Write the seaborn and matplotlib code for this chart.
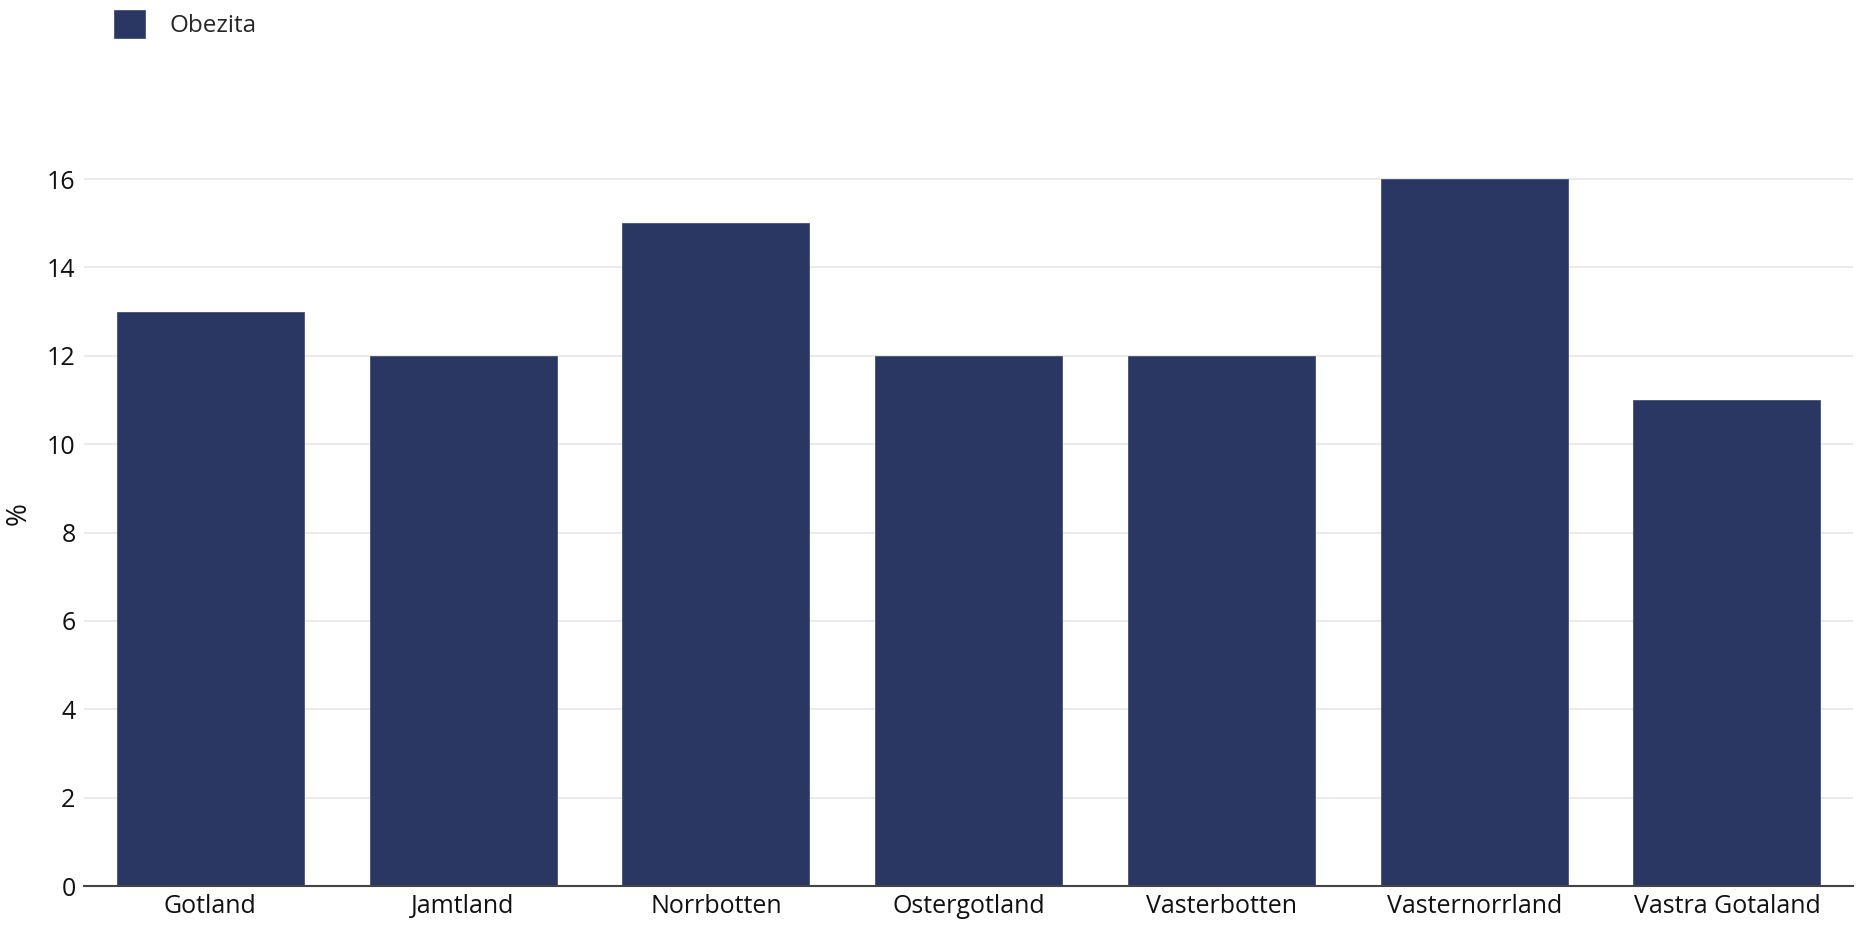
import numpy as np
import pandas as pd
import matplotlib
matplotlib.use('Agg')
import matplotlib.pyplot as plt
import seaborn as sns

regions = ['Gotland', 'Jamtland', 'Norrbotten', 'Ostergotland',
           'Vasterbotten', 'Vasternorrland', 'Vastra Gotaland']
obezita = [13, 12, 15, 12, 12, 16, 11]
series_name = 'Obezita'
y_ticks = [0, 2, 4, 6, 8, 10, 12, 14, 16]

BAR_COLOR = '#2a3763'
GRID_COLOR = '#ebebeb'

sns.set_theme(style='white')
plt.rcParams['font.family'] = ['Open Sans', 'DejaVu Sans']

df = pd.DataFrame({'region': regions, 'value': obezita})

fig = plt.figure(figsize=(18.57, 9.30), dpi=100)
ax = fig.add_axes([0.0452, 0.0473, 0.9528, 0.80])

sns.barplot(data=df, x='region', y='value', color=BAR_COLOR, width=0.74,
            saturation=1, label=series_name, ax=ax, zorder=3,
            edgecolor='#46507a', linewidth=0.6)

ax.set_xlim(-0.5, len(regions) - 0.5)
ax.set_ylim(0, 16.84)
ax.set_yticks(y_ticks)
ax.set_yticklabels([str(t) for t in y_ticks])
ax.yaxis.grid(True, color=GRID_COLOR, linewidth=1.5, zorder=0)
ax.xaxis.grid(False)
ax.set_axisbelow(True)
for side in ['top', 'right', 'left']:
    ax.spines[side].set_visible(False)
ax.spines['bottom'].set_color('#444444')
ax.spines['bottom'].set_linewidth(1.5)
ax.spines['bottom'].set_zorder(4)
ax.tick_params(axis='both', length=0, labelsize=18, colors='#111111', pad=6)
ax.tick_params(axis='x', pad=6)
ax.set_xlabel('')
ax.set_ylabel('%', fontsize=20, color='#111111', labelpad=10)

ax.legend(loc='upper left', bbox_to_anchor=(0.056, 1.0), bbox_transform=fig.transFigure,
          frameon=False, fontsize=17.5, handlelength=1.3, handleheight=1.4,
          handletextpad=1.0, borderaxespad=0)

fig.savefig('out.png', dpi=100, facecolor='white')
